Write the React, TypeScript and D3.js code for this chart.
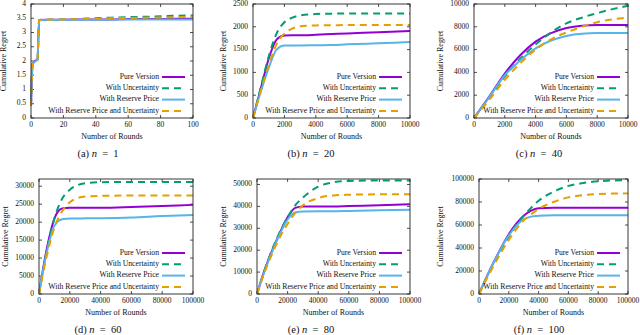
import React from 'react';
import * as d3 from 'd3';

// series names, in gnuplot's plot order
const SERIES = ['Pure Version', 'With Uncertainty', 'With Reserve Price', 'With Reserve Price and Uncertainty'];

// (a) n = 1
const A_X = [0, 1, 2, 3, 4, 5, 10, 20, 30, 40, 50, 60, 70, 80, 90, 100];
const A_PURE = [0.42, 1.9, 1.97, 2.02, 2.05, 3.44, 3.45, 3.45, 3.46, 3.46, 3.46, 3.47, 3.47, 3.47, 3.48, 3.48];
const A_UNC = [0.42, 1.9, 1.97, 2.02, 2.05, 3.44, 3.45, 3.46, 3.48, 3.5, 3.52, 3.54, 3.55, 3.57, 3.59, 3.6];
const A_RES = [0.42, 1.88, 1.96, 2.0, 2.04, 3.43, 3.44, 3.44, 3.45, 3.45, 3.45, 3.46, 3.46, 3.46, 3.46, 3.46];
const A_RU = [0.42, 1.9, 1.97, 2.02, 2.05, 3.44, 3.45, 3.46, 3.47, 3.48, 3.5, 3.51, 3.52, 3.53, 3.54, 3.55];

// (b) n = 20
const B_X = [0, 500, 1000, 1500, 2000, 2500, 3000, 4000, 5000, 6000, 8000, 10000];
const B_PURE = [0, 650, 1300, 1720, 1810, 1815, 1815, 1825, 1840, 1855, 1880, 1910];
const B_UNC = [0, 680, 1350, 1850, 2100, 2200, 2250, 2280, 2288, 2290, 2290, 2292];
const B_RES = [0, 580, 1100, 1500, 1590, 1590, 1590, 1595, 1600, 1615, 1640, 1665];
const B_RU = [0, 600, 1150, 1620, 1850, 1960, 2010, 2030, 2035, 2038, 2040, 2042];

// (c) n = 40
const C_X = [0, 1000, 2000, 3000, 4000, 5000, 6000, 7000, 8000, 9000, 10000];
const C_PURE = [0, 1900, 3900, 5500, 6700, 7450, 7900, 8100, 8150, 8150, 8150];
const C_UNC = [0, 1800, 3650, 5200, 6450, 7500, 8300, 8800, 9200, 9550, 9850];
const C_RES = [0, 1850, 3750, 5050, 6100, 6800, 7200, 7400, 7450, 7450, 7450];
const C_RU = [0, 1600, 3350, 4800, 6000, 6900, 7500, 8000, 8400, 8650, 8800];

// (d) n = 60
const D_X = [0, 5000, 10000, 15000, 20000, 25000, 30000, 40000, 60000, 80000, 100000];
const D_PURE = [0, 12500, 21000, 23800, 24000, 24000, 24000, 24000, 24200, 24500, 24800];
const D_UNC = [0, 12000, 21000, 26500, 29000, 30300, 30800, 31100, 31200, 31200, 31200];
const D_RES = [0, 11500, 19000, 20800, 21000, 21000, 21050, 21100, 21300, 21700, 22000];
const D_RU = [0, 10500, 18500, 23000, 25500, 26700, 27100, 27300, 27400, 27400, 27400];

// (e) n = 80
const E_X = [0, 5000, 10000, 15000, 20000, 25000, 30000, 40000, 50000, 60000, 80000, 100000];
const E_PURE = [0, 11000, 20000, 28000, 35000, 39300, 40000, 40000, 40000, 40200, 40500, 41000];
const E_UNC = [0, 11000, 20500, 28500, 35000, 40500, 44000, 49000, 51000, 51600, 51800, 51800];
const E_RES = [0, 10500, 19500, 27500, 34000, 37200, 37700, 37800, 37800, 37900, 38200, 38500];
const E_RU = [0, 10000, 18500, 26000, 32000, 37000, 40500, 43800, 45000, 45300, 45500, 45500];

// (f) n = 100
const F_X = [0, 10000, 20000, 30000, 35000, 40000, 50000, 60000, 70000, 80000, 90000, 100000];
const F_PURE = [0, 28000, 52000, 68000, 72500, 74500, 75000, 75000, 75000, 75000, 75000, 75000];
const F_UNC = [0, 27000, 50000, 68000, 75000, 81000, 89000, 94000, 96500, 98000, 98700, 99000];
const F_RES = [0, 28000, 51000, 65000, 67300, 68000, 68500, 68500, 68500, 68500, 68500, 68500];
const F_RU = [0, 25000, 47000, 64000, 69500, 74000, 80000, 84000, 86000, 87000, 87300, 87500];

const COLORS = ['#9400d3', '#009e73', '#56b4e9', '#e69f00'];
const DASHES = [null, '7,5', null, '7,5'];
const FONT = '"Liberation Serif", "DejaVu Serif", serif';

type PanelProps = {
  xs: number[];
  series: number[][];
  xMax: number;
  xStep: number;
  yMax: number;
  yStep: number;
  yTickMax: number;
  box: { left: number; right: number; top: number; bottom: number };
  labelX: number;
  captionX: number;
  letter: string;
  n: number;
};

const fmt = (v: number) => String(+v.toFixed(2));

function Panel({ xs, series, xMax, xStep, yMax, yStep, yTickMax, box, labelX, captionX, letter, n }: PanelProps) {
  const x = d3.scaleLinear().domain([0, xMax]).range([box.left, box.right]);
  const y = d3.scaleLinear().domain([0, yMax]).range([box.bottom, box.top]);
  const xTicks = d3.range(0, xMax + xStep / 2, xStep);
  const yTicks = d3.range(0, yTickMax + yStep / 2, yStep);
  const line = d3.line<number>()
    .x((_, i) => x(xs[i]))
    .y(d => y(d))
    .curve(d3.curveMonotoneX);
  const midY = (box.top + box.bottom) / 2;
  const tl = 3;

  return (
    <g fontFamily={FONT}>
      {/* ticks, mirrored on the top and right */}
      {xTicks.map(t => (
        <g key={'x' + t}>
          <line x1={x(t)} x2={x(t)} y1={box.bottom} y2={box.bottom - tl} stroke="#222" strokeWidth={0.8} />
          <line x1={x(t)} x2={x(t)} y1={box.top} y2={box.top + tl} stroke="#222" strokeWidth={0.8} />
          <text x={x(t)} y={box.bottom + 7} fontSize={7.5} textAnchor="middle" dominantBaseline="middle" fill="#111">{t}</text>
        </g>
      ))}
      {yTicks.map(t => (
        <g key={'y' + t}>
          <line x1={box.left} x2={box.left + tl} y1={y(t)} y2={y(t)} stroke="#222" strokeWidth={0.8} />
          <line x1={box.right} x2={box.right - tl} y1={y(t)} y2={y(t)} stroke="#222" strokeWidth={0.8} />
          <text x={box.left - 5} y={y(t)} fontSize={7.5} textAnchor="end" dominantBaseline="middle" fill="#111">{fmt(t)}</text>
        </g>
      ))}

      {series.map((s, i) => (
        <path key={i} d={line(s) || ''} fill="none" stroke={COLORS[i]} strokeWidth={2}
          strokeDasharray={DASHES[i] || undefined} />
      ))}

      <rect x={box.left} y={box.top} width={box.right - box.left} height={box.bottom - box.top}
        fill="none" stroke="#222" strokeWidth={0.9} />

      {/* legend */}
      {SERIES.map((name, i) => {
        const ly = box.bottom - 41 + i * 11.3;
        const x2 = box.right - 8;
        const x1 = x2 - 23;
        return (
          <g key={name}>
            <text x={x1 - 3} y={ly} fontSize={7.7} textAnchor="end" dominantBaseline="middle" fill="#111">{name}</text>
            <line x1={x1} x2={x2} y1={ly} y2={ly} stroke={COLORS[i]} strokeWidth={2}
              strokeDasharray={DASHES[i] || undefined} />
          </g>
        );
      })}

      <text x={(box.left + box.right) / 2} y={box.bottom + 19} fontSize={8} textAnchor="middle" dominantBaseline="middle" fill="#111">Number of Rounds</text>
      <text transform={`translate(${labelX},${midY}) rotate(-90)`} fontSize={8} textAnchor="middle" dominantBaseline="middle" fill="#111">Cumulative Regret</text>
      <text x={captionX} y={box.bottom + 37} fontSize={10.5} textAnchor="middle" dominantBaseline="middle" fill="#111" xmlSpace="preserve">
        ({letter}) <tspan fontStyle="italic">n</tspan>  =  {n}
      </text>
    </g>
  );
}

export default function App() {
  return (
    <svg width={640} height={335} style={{ position: 'absolute', left: 0, top: 0, background: '#fff' }}>
      <Panel xs={A_X} series={[A_PURE, A_UNC, A_RES, A_RU]} xMax={100} xStep={20} yMax={4} yStep={0.5} yTickMax={4}
        box={{ left: 31, right: 193, top: 4, bottom: 118 }} labelX={4} captionX={98} letter="a" n={1} />
      <Panel xs={B_X} series={[B_PURE, B_UNC, B_RES, B_RU]} xMax={10000} xStep={2000} yMax={2500} yStep={500} yTickMax={2500}
        box={{ left: 253, right: 410, top: 4, bottom: 118 }} labelX={224} captionX={311} letter="b" n={20} />
      <Panel xs={C_X} series={[C_PURE, C_UNC, C_RES, C_RU]} xMax={10000} xStep={2000} yMax={10000} yStep={2000} yTickMax={10000}
        box={{ left: 474, right: 628, top: 4, bottom: 118 }} labelX={441} captionX={539} letter="c" n={40} />
      <Panel xs={D_X} series={[D_PURE, D_UNC, D_RES, D_RU]} xMax={100000} xStep={20000} yMax={32000} yStep={5000} yTickMax={30000}
        box={{ left: 39, right: 193, top: 179, bottom: 294 }} labelX={6} captionX={98} letter="d" n={60} />
      <Panel xs={E_X} series={[E_PURE, E_UNC, E_RES, E_RU]} xMax={100000} xStep={20000} yMax={52500} yStep={10000} yTickMax={50000}
        box={{ left: 257, right: 410, top: 179, bottom: 294 }} labelX={224} captionX={311} letter="e" n={80} />
      <Panel xs={F_X} series={[F_PURE, F_UNC, F_RES, F_RU]} xMax={100000} xStep={20000} yMax={100000} yStep={20000} yTickMax={100000}
        box={{ left: 479, right: 628, top: 179, bottom: 294 }} labelX={441} captionX={539} letter="f" n={100} />
    </svg>
  );
}
